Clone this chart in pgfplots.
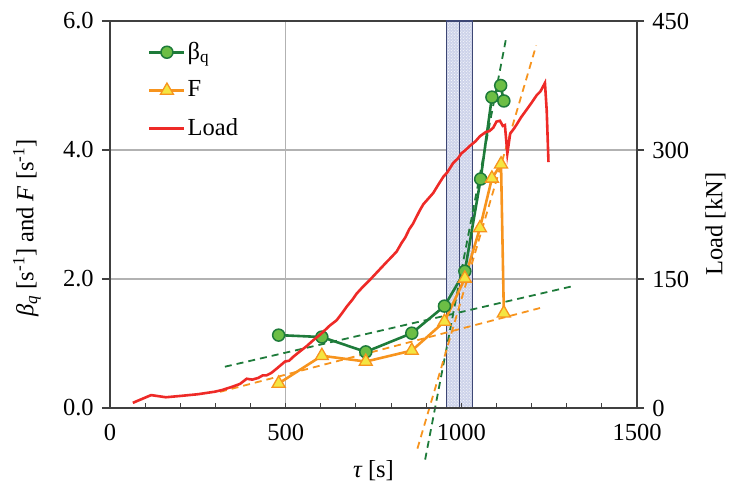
\documentclass[border=0pt]{standalone}
\usepackage{fontspec}
\setmainfont{Liberation Serif}
\usepackage{pgfplots}
\pgfplotsset{compat=1.18}
\usetikzlibrary{patterns}
\definecolor{cgreen}{HTML}{1E7B3A}
\definecolor{cgfill}{HTML}{6CBE45}
\definecolor{corange}{HTML}{F7941E}
\definecolor{cyellow}{HTML}{F4E542}
\definecolor{cred}{HTML}{EE2A27}
\definecolor{cband}{HTML}{CDD3EA}
\definecolor{cbandedge}{HTML}{3D4775}
\definecolor{caxis}{HTML}{404040}
\begin{document}
\fontsize{24.5bp}{29bp}\selectfont
\begin{tikzpicture}
\pgfplotsset{
  common/.style={width=527bp,height=387bp,scale only axis,xmin=0,xmax=1500,
    /pgf/number format/assume math mode=true,
    /pgf/number format/1000 sep={},
    axis line style={caxis,line width=1.3bp},
    every tick/.style={caxis,line width=1.1bp}},
}
\begin{axis}[common, ymin=0, ymax=6, clip=false,
  xtick={0,500,1000,1500}, ytick={0,2,4,6},
  xtick pos=bottom, ytick pos=left,
  tick align=outside, major tick length=8bp,
  x tick style={draw=none},
  yticklabel style={/pgf/number format/.cd,fixed,fixed zerofill,precision=1},
  grid=major, major grid style={color=black!30, line width=1.1bp},
  xlabel={{\itshape τ} [s]},
  ylabel={{\itshape β\textsubscript{q}} [s\textsuperscript{-1}] and {\itshape F} [s\textsuperscript{-1}]},
  x label style={at={(axis description cs:0.5,-0.163)},anchor=center},
  y label style={at={(axis description cs:-0.1575,0.465)},anchor=center},
  legend style={draw=none,fill=none,at={(axis description cs:0.072,0.952)},anchor=north west,
    row sep=14bp, inner sep=0pt, font=\fontsize{24.5bp}{29bp}\selectfont},
  legend cell align=left,
  legend image code/.code={\draw[mark repeat=2,mark phase=2] plot coordinates {(0bp,0bp)(17.5bp,0bp)(35bp,0bp)};},
]
% band
\addplot[fill=cband, draw=none, forget plot] coordinates {(957,0)(957,6)(1032,6)(1032,0)} \closedcycle;
\addplot[pattern=crosshatch dots, pattern color=white, draw=none, forget plot] coordinates {(957,0)(957,6)(1032,6)(1032,0)} \closedcycle;
\addplot[draw=cbandedge, line width=1.2bp, forget plot] coordinates {(957,0)(957,6)(995,6)(995,0)} \closedcycle;
\addplot[draw=cbandedge, line width=1.2bp, forget plot] coordinates {(995,0)(995,6)(1032,6)(1032,0)} \closedcycle;
% fitted dashed lines
\addplot[cgreen, line width=1.8bp, dash pattern=on 7bp off 5bp, forget plot] coordinates {(327,0.64)(1318,1.89)};
\addplot[cgreen, line width=1.8bp, dash pattern=on 7bp off 5bp, forget plot] coordinates {(897,-0.80)(1127,5.72)};
\addplot[corange, line width=1.8bp, dash pattern=on 7bp off 5bp, forget plot] coordinates {(313,0.25)(1224,1.55)};
\addplot[corange, line width=1.8bp, dash pattern=on 7bp off 5bp, forget plot] coordinates {(875,-0.63)(1213,5.62)};
% beta_q
\addplot[cgreen, line width=2.6bp, mark=*, mark size=6bp, mark options={fill=cgfill, draw=cgreen, line width=1.5bp}]
coordinates {(480,1.13)(603,1.10)(728,0.87)(859,1.16)(952,1.58)(1010,2.12)(1055,3.55)(1087,4.82)(1112,5.00)(1121,4.76)};
\addlegendentry{β\textsubscript{q}}
% F
\addplot[corange, line width=2.6bp, mark=triangle*, mark size=7.5bp, mark options={fill=cyellow, draw=corange, line width=1.3bp}]
coordinates {(480,0.38)(603,0.81)(728,0.72)(859,0.89)(952,1.34)(1010,2.01)(1053,2.79)(1087,3.56)(1113,3.78)(1121,1.47)};
\addlegendentry{F}
\addlegendimage{cred, line width=2.6bp}
\addlegendentry{Load}
\end{axis}
\begin{axis}[common, ymin=0, ymax=450, ytick={0,150,300,450},
  axis y line*=right, axis x line=none, tick align=outside, major tick length=7bp,
  ylabel={Load [kN]},
  y label style={at={(axis description cs:1.149,0.475)},anchor=center}]
\addplot[cred, line width=2.6bp] coordinates {
(65,6)(117,15)(159,12.5)(200,14)(250,16)(299,19)(320,21)(350,25)(370,28)(389,34)(405,33)(422,35)(435,38)(446,38)(460,41)(475,46)(498,54)(510,55)(520,59)(541,66)(560,72)(579,79)(600,86)(626,96)(645,102)(660,110)(674,118)(690,126)(702,133)(720,141)(735,147)(749,153)(765,160)(788,170)(800,175)(816,182)(830,192)(840,198)(852,208)(862,214)(872,222)(882,230)(892,237)(905,243)(920,250)(935,260)(949,269)(960,274)(977,285)(990,290)(1000,296)(1012,300)(1025,305)(1040,310)(1053,316)(1070,321)(1080,322)(1091,326)(1100,333)(1110,334)(1118,328)(1124,329)(1131,296)(1139,319)(1150,325)(1158,330)(1170,338)(1186,347)(1200,355)(1215,364)(1225,368)(1238,378)(1243,346)(1248,286)};
\end{axis}
\begin{axis}[common, ymin=0, ymax=6, axis x line*=bottom, axis y line=none,
  xtick={0,100,...,1500}, xticklabels={}, tick align=inside, major tick length=4.7bp]
\end{axis}
\pgfresetboundingbox
\path[use as bounding box] (-110bp,-76bp) rectangle (620bp,408bp);
\end{tikzpicture}
\end{document}
